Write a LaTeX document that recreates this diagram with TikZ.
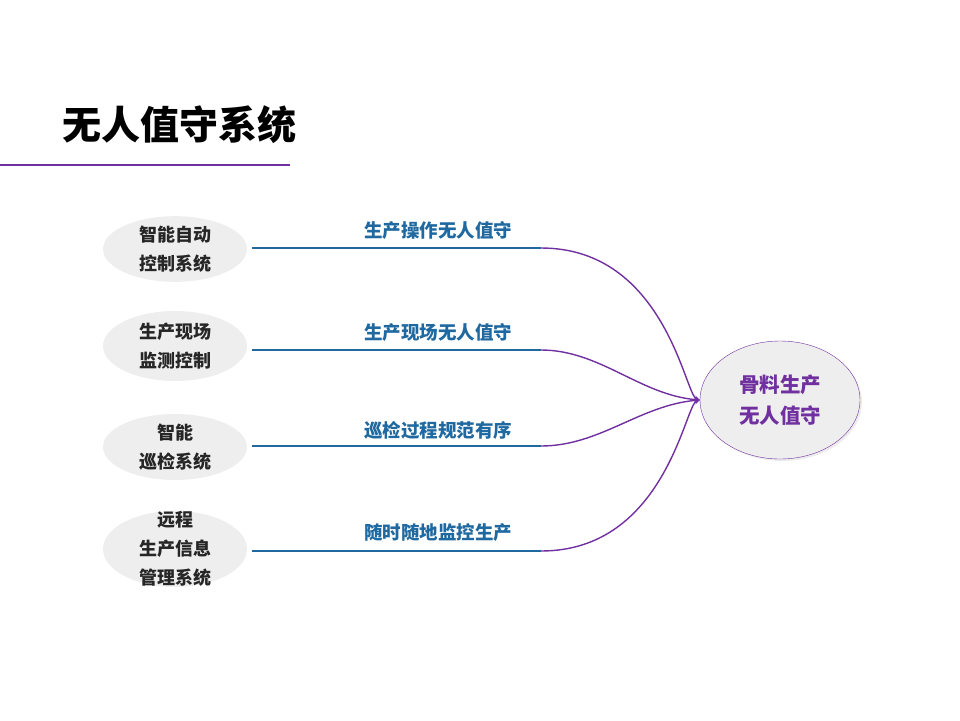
\documentclass[tikz,border=0pt]{standalone}
\usepackage{fontspec}
\newfontfamily\cjk{Noto Sans CJK SC}
\usetikzlibrary{shapes,positioning,arrows,shadows}
\definecolor{lila}{RGB}{112,48,160}
\definecolor{blau}{RGB}{31,105,160}
\definecolor{hell}{RGB}{238,238,238}
\tikzset{
  sys/.style={ellipse,fill=hell,minimum width=144pt,minimum height=62pt,inner sep=0pt,align=center,text=black!85,font=\cjk\bfseries\fontsize{18}{29}\selectfont},
  tag/.style={text=blau,font=\cjk\bfseries\fontsize{18.5}{20}\selectfont},
  ast/.style={lila,line width=1.4pt,-stealth},
  leiste/.style={blau,line width=1.4pt}
}
\begin{document}
\begin{tikzpicture}[x=1pt,y=-1pt]
				\useasboundingbox (0,0) rectangle (960,720);
				\node[text=black,font=\cjk\bfseries\fontsize{39}{40}\selectfont] (titel) at (179,125) {无人值守系统};
				\draw[lila,line width=2pt] (0,165) -- (290,165);
				
				\node[sys] (s1) at (175,249) {智能自动\\控制系统};
				\node[sys,minimum height=70pt] (s2) at (175,346) {生产现场\\监测控制};
				\node[sys,minimum height=66pt] (s3) at (175,447) {智能\\巡检系统};
				\node[sys,minimum height=76pt,inner ysep=-14pt] (s4) at (175,549) {远程\\生产信息\\管理系统};
				
				\node[ellipse,draw=lila,fill=hell,minimum width=160pt,minimum height=118pt,inner sep=0pt,align=center,text=lila,font=\cjk\bfseries\fontsize{20.5}{31}\selectfont,drop shadow={opacity=0.15,shadow xshift=2pt,shadow yshift=-2pt}] (ziel) at (780,400) {骨料生产\\无人值守};
				
				\coordinate (a1) at (252,248);
				\coordinate (b1) at (541,248);
				\coordinate (a2) at (252,350);
				\coordinate (b2) at (541,350);
				\coordinate (a3) at (252,446);
				\coordinate (b3) at (541,446);
				\coordinate (a4) at (252,551);
				\coordinate (b4) at (541,551);
				\draw[leiste] (a1) -- (b1);
				\draw[leiste] (a2) -- (b2);
				\draw[leiste] (a3) -- (b3);
				\draw[leiste] (a4) -- (b4);
				
				\node[tag] (t1) at (438,231) {生产操作无人值守};
				\node[tag] (t2) at (438,333) {生产现场无人值守};
				\node[tag] (t3) at (438,430) {巡检过程规范有序};
				\node[tag] (t4) at (438,533) {随时随地监控生产};
				
				\draw[ast] (b1) .. controls (665,248) and (685,395) .. (ziel.west);
				\draw[ast] (b2) .. controls (600,350) and (640,395) .. (ziel.west);
				\draw[ast] (b3) .. controls (600,446) and (640,405) .. (ziel.west);
				\draw[ast] (b4) .. controls (665,551) and (685,405) .. (ziel.west);
			\end{tikzpicture}
\end{document}
